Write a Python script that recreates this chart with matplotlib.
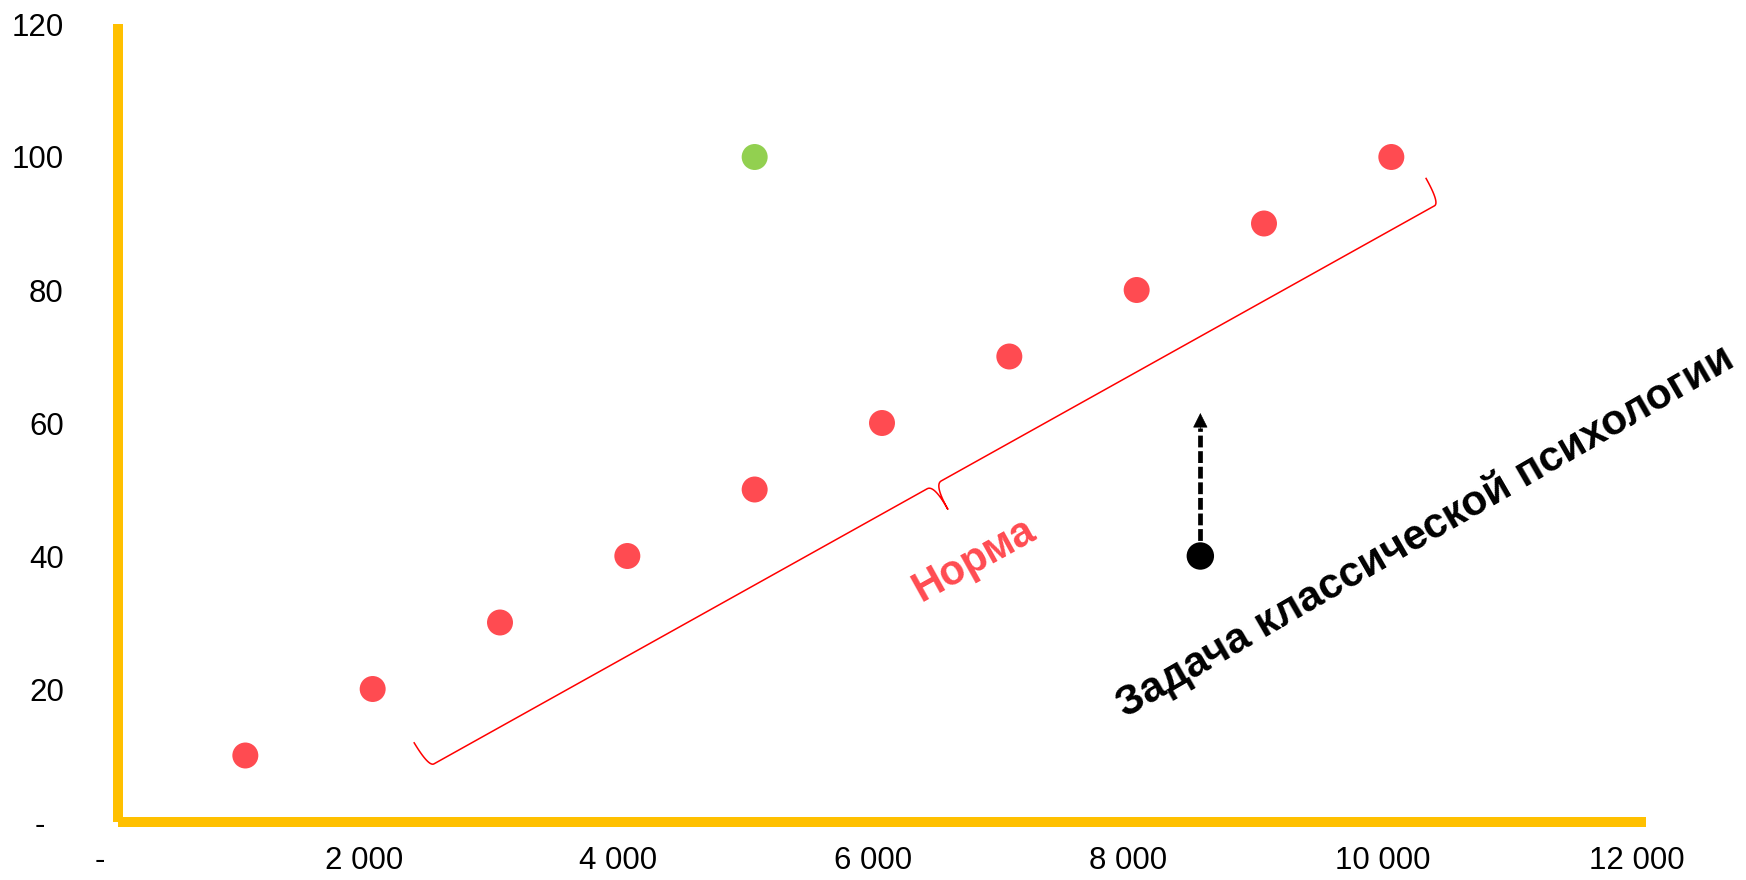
import numpy as np
import matplotlib
matplotlib.use('Agg')
import matplotlib.pyplot as plt
from matplotlib.transforms import ScaledTranslation

plt.rcParams['font.family'] = ['Liberation Sans', 'DejaVu Sans']

# Data
norm_x = [1000, 2000, 3000, 4000, 5000, 6000, 7000, 8000, 9000, 10000]
norm_y = [10, 20, 30, 40, 50, 60, 70, 80, 90, 100]
outlier_x = [5000]
outlier_y = [100]
task_x = [8500]
task_y = [40]
arrow_top = 61.5

xticks = [0, 2000, 4000, 6000, 8000, 10000, 12000]
xtick_labels = ['-', '2 000', '4 000', '6 000', '8 000', '10 000', '12 000']
yticks = [0, 20, 40, 60, 80, 100, 120]
ytick_labels = ['-', '20', '40', '60', '80', '100', '120']

# brace along the "norm" points (data coords of the two corners)
brace_from = (2440, 8.3)
brace_to = (10380, 93.1)

RED = '#FF4B51'
GREEN = '#92D050'
AXIS = '#FFC000'

fig = plt.figure(figsize=(17.46, 8.8), dpi=100)
ax = fig.add_axes([118/1746, 58/880, 1528/1746, 798/880])
ax.set_xlim(0, 12000)
ax.set_ylim(0, 120)

for s in ['top', 'right']:
    ax.spines[s].set_visible(False)
for s in ['left', 'bottom']:
    ax.spines[s].set_color(AXIS)
    ax.spines[s].set_linewidth(7.2)
    ax.spines[s].set_capstyle('butt')

ax.set_xticks(xticks)
ax.set_xticklabels(xtick_labels)
ax.set_yticks(yticks)
ax.set_yticklabels(ytick_labels)
ax.tick_params(length=0, labelsize=22.5)
ax.tick_params(axis='x', pad=17)
ax.tick_params(axis='y', pad=39)

# excel-style padding on the labels
for lab in ax.get_xticklabels():
    dx = -18 if lab.get_text() == '-' else -9
    lab.set_transform(lab.get_transform() + ScaledTranslation(dx/100, 0, fig.dpi_scale_trans))
for lab in ax.get_yticklabels():
    if lab.get_text() == '-':
        lab.set_transform(lab.get_transform() + ScaledTranslation(-19/100, 0, fig.dpi_scale_trans))

# points
ax.scatter(norm_x, norm_y, s=350, color=RED, edgecolors='none', zorder=3)
ax.scatter(outlier_x, outlier_y, s=350, color=GREEN, edgecolors='none', zorder=3)

# dashed arrow up from the black point
ax.plot([task_x[0], task_x[0]], [task_y[0], arrow_top - 2.3], color='black', lw=3.4,
        ls=(0, (2.5, 0.8)), zorder=2)
ax.annotate('', xy=(task_x[0], arrow_top), xytext=(task_x[0], arrow_top - 2.4),
            arrowprops=dict(arrowstyle='-|>', color='black', lw=0.5, mutation_scale=24,
                            shrinkA=0, shrinkB=0))
ax.scatter(task_x, task_y, s=390, color='black', edgecolors='none', zorder=3)


def bezier(p0, c, p1, n=20):
    t = np.linspace(0, 1, n)[:, None]
    return (1-t)**2 * p0 + 2*(1-t)*t * c + t**2 * p1


def draw_brace(ax, a, b, h=28, r=6, rc=8, **kw):
    # curly bracket built in pixels, hooks to the left of a->b
    p0 = ax.transData.transform(a)
    p1 = ax.transData.transform(b)
    L = np.hypot(*(p1 - p0))
    d = (p1 - p0) / L
    n = np.array([-d[1], d[0]])
    m = L / 2

    def P(u, v):
        return p0 + u*d + v*n
    segs = [
        bezier(P(-1, h), P(0, 0), P(r, 0)),
        bezier(P(r, 0), P(m - rc, 0), P(m - rc, 0), 2),
        bezier(P(m - rc, 0), P(m, 0), P(m, -h)),
        bezier(P(m, -h), P(m, 0), P(m + rc, 0)),
        bezier(P(m + rc, 0), P(L - r, 0), P(L - r, 0), 2),
        bezier(P(L - r, 0), P(L, 0), P(L, h)),
    ]
    pts = np.vstack(segs)
    pts = ax.transData.inverted().transform(pts)
    ax.plot(pts[:, 0], pts[:, 1], **kw)


draw_brace(ax, brace_from, brace_to, color='#FF0000', lw=1.1, zorder=2)

ax.text(6723, 39.4, 'Норма', color=RED, fontsize=30, fontweight='bold', rotation=29,
        ha='center', va='center')
ax.text(10265, 43.6, 'Задача классической психологии', color='black', fontsize=30.5,
        fontweight='bold', rotation=30, ha='center', va='center')

fig.savefig('out.png', dpi=100)
